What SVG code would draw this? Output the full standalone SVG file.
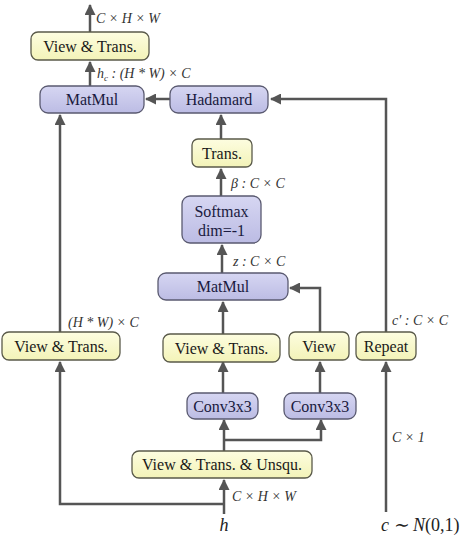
<svg xmlns="http://www.w3.org/2000/svg" width="470" height="541" viewBox="0 0 470 541">
<defs>
<marker id="ah" markerUnits="userSpaceOnUse" markerWidth="11" markerHeight="11" refX="10" refY="5.5" orient="auto">
<path d="M0,0 L11,5.5 L0,11 z" fill="#555"/>
</marker>
<linearGradient id="yel" x1="0" y1="0" x2="0" y2="1">
<stop offset="0" stop-color="#fdfde0"/>
<stop offset="1" stop-color="#f3f3b8"/>
</linearGradient>
<linearGradient id="pur" x1="0" y1="0" x2="0" y2="1">
<stop offset="0" stop-color="#d6d6f2"/>
<stop offset="1" stop-color="#bcbce4"/>
</linearGradient>
</defs>
<style>
.y rect{fill:url(#yel);stroke:#5a5a4a;stroke-width:1.3}
.p rect{fill:url(#pur);stroke:#5a5a70;stroke-width:1.3}
.t{font-family:"Liberation Serif","Times New Roman",serif;font-size:16px;fill:#1a1a1a;text-anchor:middle}
.p .t{fill:#1a1a40}
.l{font-family:"Liberation Serif","Times New Roman",serif;font-size:14px;font-style:italic;fill:#333}
.big{font-family:"Liberation Serif","Times New Roman",serif;font-size:18px;font-style:italic;fill:#222}
#connectors line,#connectors polyline{stroke:#555;stroke-width:2.5;fill:none}
</style>
<g id="connectors">
<line x1="90" y1="32" x2="90" y2="5" marker-end="url(#ah)"/>
<line x1="90" y1="86" x2="90" y2="62" marker-end="url(#ah)"/>
<line x1="170" y1="99" x2="146" y2="99" marker-end="url(#ah)"/>
<polyline points="386,332 386,99 271,99" marker-end="url(#ah)"/>
<line x1="221" y1="139" x2="221" y2="115" marker-end="url(#ah)"/>
<line x1="221" y1="196" x2="221" y2="169" marker-end="url(#ah)"/>
<line x1="222" y1="273" x2="222" y2="245" marker-end="url(#ah)"/>
<polyline points="320,332 320,288 290,288" marker-end="url(#ah)"/>
<line x1="223" y1="334" x2="223" y2="302" marker-end="url(#ah)"/>
<line x1="60" y1="332" x2="60" y2="115" marker-end="url(#ah)"/>
<line x1="223" y1="393" x2="223" y2="362" marker-end="url(#ah)"/>
<line x1="320" y1="393" x2="320" y2="362" marker-end="url(#ah)"/>
<line x1="224" y1="451" x2="224" y2="420" marker-end="url(#ah)"/>
<polyline points="224,440 321,440 321,420" marker-end="url(#ah)"/>
<line x1="224" y1="514" x2="224" y2="480" marker-end="url(#ah)"/>
<polyline points="224,504 60,504 60,362" marker-end="url(#ah)"/>
<line x1="386" y1="512" x2="386" y2="362" marker-end="url(#ah)"/>
</g>
<g id="vt_top" class="y"><rect x="31" y="32" width="118" height="28" rx="7"/><text class="t" x="90" y="51.5">View &amp; Trans.</text></g>
<g id="matmul1" class="p"><rect x="40" y="86" width="104" height="27" rx="8"/><text class="t" x="92" y="105">MatMul</text></g>
<g id="hadamard" class="p"><rect x="170" y="86" width="98" height="27" rx="8"/><text class="t" x="219" y="105">Hadamard</text></g>
<g id="trans" class="y"><rect x="192" y="139" width="60" height="28" rx="6"/><text class="t" x="222" y="158.5">Trans.</text></g>
<g id="softmax" class="p"><rect x="182" y="196" width="79" height="47" rx="8"/><text class="t" x="221.5" y="217">Softmax</text><text class="t" x="221.5" y="236">dim=-1</text></g>
<g id="matmul2" class="p"><rect x="158" y="273" width="130" height="27" rx="8"/><text class="t" x="223" y="292">MatMul</text></g>
<g id="vt_left" class="y"><rect x="2" y="332" width="118" height="28" rx="7"/><text class="t" x="61" y="351.5">View &amp; Trans.</text></g>
<g id="vt_mid" class="y"><rect x="163" y="334" width="117" height="28" rx="7"/><text class="t" x="221.5" y="353.5">View &amp; Trans.</text></g>
<g id="view" class="y"><rect x="289" y="332" width="60" height="28" rx="6"/><text class="t" x="319" y="351.5">View</text></g>
<g id="repeat" class="y"><rect x="356" y="332" width="60" height="28" rx="6"/><text class="t" x="386" y="351.5">Repeat</text></g>
<g id="conv1" class="p"><rect x="187" y="393" width="71" height="26" rx="8"/><text class="t" x="222.5" y="411.5">Conv3x3</text></g>
<g id="conv2" class="p"><rect x="284" y="393" width="72" height="26" rx="8"/><text class="t" x="320" y="411.5">Conv3x3</text></g>
<g id="unsqu" class="y"><rect x="132" y="451" width="180" height="27" rx="7"/><text class="t" x="222" y="470">View &amp; Trans. &amp; Unsqu.</text></g>
<g id="labels">
<text class="l" x="96" y="23">C × H × W</text>
<text class="l" x="97" y="78">h<tspan font-size="9" dy="3">c</tspan><tspan dy="-3"> : (H * W) × C</tspan></text>
<text class="l" x="231" y="188">β : C × C</text>
<text class="l" x="233" y="266">z : C × C</text>
<text class="l" x="68" y="327">(H * W) × C</text>
<text class="l" x="392" y="325">c′ : C × C</text>
<text class="l" x="392" y="442">C × 1</text>
<text class="l" x="232" y="501">C × H × W</text>
<text class="big" x="224" y="531" text-anchor="middle">h</text>
<text class="big" x="381" y="531">c ∼ <tspan>N</tspan><tspan font-style="normal">(0,1)</tspan></text>
</g>
</svg>
